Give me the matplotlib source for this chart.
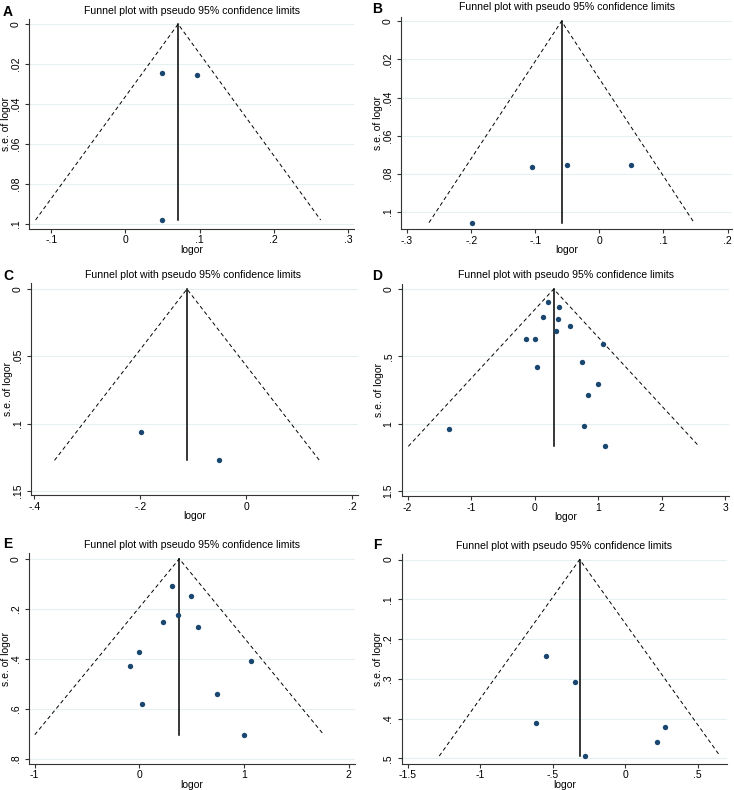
import matplotlib
matplotlib.use('Agg')
import matplotlib.pyplot as plt
from matplotlib.ticker import FuncFormatter

plt.rcParams['font.family'] = ['Liberation Sans', 'DejaVu Sans']

# ---- data (logor, s.e. of logor, pooled estimate) ----
a_logor = [0.049, 0.096, 0.049]
a_se = [0.0245, 0.0255, 0.098]
a_pooled = 0.071

b_logor = [-0.199, -0.105, -0.051, 0.049]
b_se = [0.1055, 0.0762, 0.0753, 0.0753]
b_pooled = -0.059

c_logor = [-0.198, -0.051]
c_se = [0.106, 0.1274]
c_pooled = -0.112

d_logor = [0.21, 0.388, 0.136, 0.367, 0.562, 0.336, -0.136, 0.005, 1.076,
           0.745, 0.037, 0.997, 0.835, -1.349, 0.772, 1.102]
d_se = [0.099, 0.136, 0.208, 0.223, 0.272, 0.309, 0.371, 0.374, 0.408,
        0.542, 0.579, 0.703, 0.787, 1.037, 1.017, 1.168]
d_pooled = 0.299

e_logor = [0.315, 0.494, 0.366, 0.229, 0.561, 0.0, -0.092, 1.07, 0.739, 0.029, 0.997]
e_se = [0.108, 0.147, 0.223, 0.251, 0.273, 0.373, 0.429, 0.409, 0.541, 0.580, 0.704]
e_pooled = 0.382

f_logor = [-0.545, -0.343, -0.614, 0.278, 0.223, -0.274]
f_se = [0.243, 0.307, 0.410, 0.420, 0.458, 0.494]
f_pooled = -0.313

a_xticks = [-0.1, 0, 0.1, 0.2, 0.3]
a_yticks = [0, 0.02, 0.04, 0.06, 0.08, 0.1]
b_xticks = [-0.3, -0.2, -0.1, 0, 0.1, 0.2]
b_yticks = [0, 0.02, 0.04, 0.06, 0.08, 0.1]
c_xticks = [-0.4, -0.2, 0, 0.2]
c_yticks = [0, 0.05, 0.1, 0.15]
d_xticks = [-2, -1, 0, 1, 2, 3]
d_yticks = [0, 0.5, 1, 1.5]
e_xticks = [-1, 0, 1, 2]
e_yticks = [0, 0.2, 0.4, 0.6, 0.8]
f_xticks = [-1.5, -1, -0.5, 0, 0.5]
f_yticks = [0, 0.1, 0.2, 0.3, 0.4, 0.5]

W, H = 734, 790
fig = plt.figure(figsize=(W / 100, H / 100), dpi=100)

NAVY = '#1a476f'
GRID = '#e6eff1'
AXC = '#333333'


def stata_fmt(v, pos=None):
    s = '%g' % round(v, 6)
    if s.startswith('0.'):
        s = s[1:]
    elif s.startswith('-0.'):
        s = '-' + s[2:]
    return s


def panel(letter, rect, xlim, ylim, xt, yt, logor, se, pooled, title_xy, letter_xy):
    l, t, r, b = rect
    ax = fig.add_axes([l / W, 1 - b / H, (r - l) / W, (b - t) / H])
    ax.set_xlim(*xlim)
    ax.set_ylim(ylim[1], ylim[0])
    ax.set_xticks(xt)
    ax.set_yticks(yt)
    ax.xaxis.set_major_formatter(FuncFormatter(stata_fmt))
    ax.yaxis.set_major_formatter(FuncFormatter(stata_fmt))
    ax.tick_params(axis='y', labelrotation=90, labelsize=7.5, length=3, width=0.8,
                   color=AXC, pad=3)
    ax.tick_params(axis='x', labelsize=7.5, length=3, width=0.8, color=AXC, pad=1.5)
    for lab in ax.get_yticklabels():
        lab.set_va('center')
    ax.grid(axis='y', color=GRID, linewidth=0.8)
    ax.set_axisbelow(True)
    for s in ['top', 'right']:
        ax.spines[s].set_visible(False)
    for s in ['left', 'bottom']:
        ax.spines[s].set_color(AXC)
        ax.spines[s].set_linewidth(0.8)

    semax = max(se)
    ax.plot([pooled - 1.96 * semax, pooled, pooled + 1.96 * semax], [semax, 0, semax],
            color='black', linestyle=(0, (4, 3)), linewidth=0.7)
    ax.plot([pooled, pooled], [0, semax], color='black', linewidth=1.1)
    ax.scatter(logor, se, s=15, color=NAVY, zorder=3, linewidths=0)

    ax.set_xlabel('logor', fontsize=7.5, labelpad=-0.5)
    ax.set_ylabel('s.e. of logor', fontsize=7.5, labelpad=0)

    fig.text(title_xy[0] / W, 1 - title_xy[1] / H,
             'Funnel plot with pseudo 95% confidence limits',
             ha='center', va='center', fontsize=7.6)
    fig.text(letter_xy[0] / W, 1 - letter_xy[1] / H, letter,
             ha='center', va='center', fontsize=10, fontweight='bold')
    return ax


panel('A', (29.3, 19.3, 354, 229), (-0.1295, 0.308), (-0.0024, 0.1025),
      a_xticks, a_yticks, a_logor, a_se, a_pooled, (191.7, 10.7), (8, 12))
panel('B', (401.3, 16.7, 732, 229.3), (-0.309, 0.207), (-0.0024, 0.109),
      b_xticks, b_yticks, b_logor, b_se, b_pooled, (567, 7.3), (377, 9))
panel('C', (31, 283, 358.3, 495.3), (-0.406, 0.211), (-0.0045, 0.1534),
      c_xticks, c_yticks, c_logor, c_se, c_pooled, (193, 275.3), (8, 276))
panel('D', (402, 283.7, 728.7, 496.3), (-2.09, 3.055), (-0.04, 1.539),
      d_xticks, d_yticks, d_logor, d_se, d_pooled, (566, 275.3), (377, 276))
panel('E', (29.3, 553.3, 355, 764), (-1.05, 2.06), (-0.022, 0.821),
      e_xticks, e_yticks, e_logor, e_se, e_pooled, (192, 545), (8, 544))
panel('F', (401.7, 554, 727, 764), (-1.54, 0.703), (-0.014, 0.514),
      f_xticks, f_yticks, f_logor, f_se, f_pooled, (564, 546), (377, 545))

fig.savefig('out.png', dpi=100)
